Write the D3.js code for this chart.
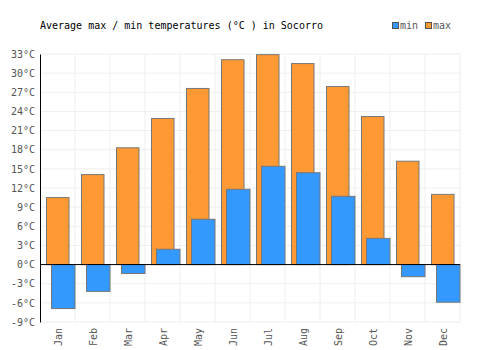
<!DOCTYPE html>
<html>
<head>
<meta charset="utf-8">
<script src="https://cdn.jsdelivr.net/npm/d3@7"></script>
<style>
  body { margin: 0; background: #fff; }
  text { font-family: "DejaVu Sans Mono", monospace; }
</style>
</head>
<body>
<svg id="chart"></svg>
<script>
const months = ["Jan", "Feb", "Mar", "Apr", "May", "Jun", "Jul", "Aug", "Sep", "Oct", "Nov", "Dec"];
const maxTemps = [10.5, 14.1, 18.3, 22.9, 27.6, 32.1, 32.9, 31.5, 27.9, 23.2, 16.2, 11.0];
const minTemps = [-6.9, -4.2, -1.4, 2.4, 7.1, 11.8, 15.4, 14.4, 10.7, 4.1, -1.9, -5.9];
const yTicks = [-9, -6, -3, 0, 3, 6, 9, 12, 15, 18, 21, 24, 27, 30, 33];

const width = 500, height = 350;
const margin = { top: 54, right: 40, bottom: 28, left: 40 };
const fontSize = "10px";

const svg = d3.select("#chart")
  .attr("width", width)
  .attr("height", height);

const x = d3.scaleBand()
  .domain(months)
  .range([margin.left, width - margin.right]);

const y = d3.scaleLinear()
  .domain([-9, 33])
  .range([height - margin.bottom, margin.top]);

// grid
svg.append("g")
  .selectAll("line")
  .data(yTicks)
  .join("line")
  .attr("x1", margin.left)
  .attr("x2", width - margin.right)
  .attr("y1", d => y(d))
  .attr("y2", d => y(d))
  .attr("stroke", "#eee")
  .attr("stroke-width", 1);

svg.append("g")
  .selectAll("line")
  .data(months)
  .join("line")
  .attr("x1", d => x(d) + x.bandwidth())
  .attr("x2", d => x(d) + x.bandwidth())
  .attr("y1", margin.top)
  .attr("y2", height - margin.bottom)
  .attr("stroke", "#eee")
  .attr("stroke-width", 1);

// max bars
svg.append("g")
  .selectAll("rect")
  .data(months)
  .join("rect")
  .attr("x", d => x(d) + 6.5)
  .attr("width", 22.5)
  .attr("y", (d, i) => y(maxTemps[i]))
  .attr("height", (d, i) => y(0) - y(maxTemps[i]))
  .attr("fill", "#ff9933")
  .attr("stroke", "#777")
  .attr("stroke-width", 1);

// min bars
svg.append("g")
  .selectAll("rect")
  .data(months)
  .join("rect")
  .attr("x", d => x(d) + 11.5)
  .attr("width", 23.5)
  .attr("y", (d, i) => y(Math.max(0, minTemps[i])))
  .attr("height", (d, i) => Math.abs(y(minTemps[i]) - y(0)))
  .attr("fill", "#3399ff")
  .attr("stroke", "#777")
  .attr("stroke-width", 1);

// zero line
svg.append("line")
  .attr("x1", margin.left)
  .attr("x2", width - margin.right)
  .attr("y1", y(0))
  .attr("y2", y(0))
  .attr("stroke", "#000")
  .attr("stroke-width", 1);

// y axis
const yAxis = d3.axisLeft(y)
  .tickValues(yTicks)
  .tickSize(0)
  .tickPadding(5)
  .tickFormat(d => d + "°C");

svg.append("g")
  .attr("transform", `translate(${margin.left},0)`)
  .call(yAxis)
  .call(g => g.select(".domain").attr("stroke", "#000"))
  .call(g => g.selectAll("text")
    .attr("fill", "#555")
    .style("font-size", fontSize)
    .style("font-family", "'DejaVu Sans Mono', monospace"));

// x axis labels
const xAxis = d3.axisBottom(x).tickSize(0).tickPadding(0);
svg.append("g")
  .attr("transform", `translate(0,${height - margin.bottom})`)
  .call(xAxis)
  .call(g => g.select(".domain").remove())
  .call(g => g.selectAll("text")
    .attr("transform", "rotate(-90)")
    .attr("x", -6)
    .attr("y", 1)
    .attr("dy", "0.35em")
    .attr("text-anchor", "end")
    .attr("fill", "#555")
    .style("font-size", fontSize)
    .style("font-family", "'DejaVu Sans Mono', monospace"));

// title
svg.append("text")
  .attr("x", 40)
  .attr("y", 29)
  .attr("fill", "#000")
  .style("font-size", fontSize)
  .text("Average max / min temperatures (°C ) in Socorro");

// legend
const legend = [
  { label: "min", color: "#3399ff", x: 392 },
  { label: "max", color: "#ff9933", x: 425 }
];
const lg = svg.append("g");
lg.selectAll("rect")
  .data(legend)
  .join("rect")
  .attr("x", d => d.x + 0.5)
  .attr("y", 22.5)
  .attr("width", 6)
  .attr("height", 6)
  .attr("fill", d => d.color)
  .attr("stroke", "#555")
  .attr("stroke-width", 1);
lg.selectAll("text")
  .data(legend)
  .join("text")
  .attr("x", d => d.x + 8)
  .attr("y", 29)
  .attr("fill", "#555")
  .style("font-size", fontSize)
  .text(d => d.label);
</script>
</body>
</html>
